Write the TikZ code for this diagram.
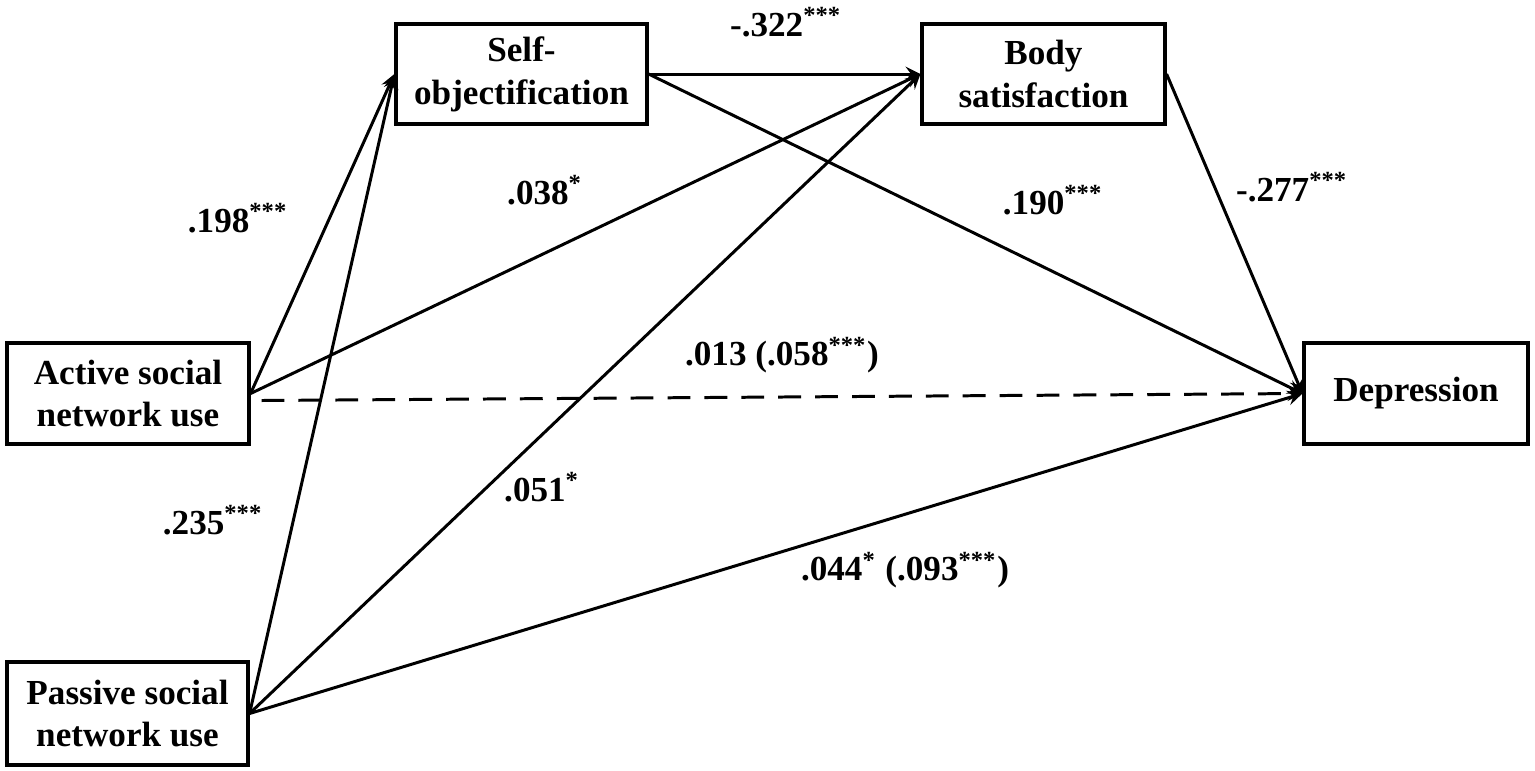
\documentclass[tikz,border=0pt]{standalone}
\usepackage{fontspec}
\setmainfont{Liberation Serif}
\usepackage{tikz}
\usetikzlibrary{positioning,arrows}

\begin{document}
\begin{tikzpicture}[
  font=\fontsize{10}{12.2}\selectfont\bfseries,
  >={stealth[scale=1.3]},
  var/.style={rectangle, draw=black, fill=white, align=center,
    line width=0.9pt, inner sep=2pt},
  ar/.style={->, line width=0.85pt, draw=black},
  arD/.style={->, line width=0.85pt, draw=black, dash pattern=on 6.5pt off 4pt},
  coef/.style={inner sep=1pt}
]
\useasboundingbox (0,0) rectangle (15.35,-7.70);
% Predictors
\node[var, minimum width=2.42cm, minimum height=1.01cm] (active) at (1.28,-3.935)
  {Active social\\network use};
\node[var, minimum width=2.41cm, minimum height=1.03cm] (passive) at (1.275,-7.135)
  {Passive social\\network use};
% Mediators
\node[var, minimum width=2.51cm, minimum height=1.00cm] (selfobj) at (5.215,-0.74)
  {Self-\\objectification};
\node[var, minimum width=2.43cm, minimum height=1.00cm] (bodysat) at (10.435,-0.74)
  {Body\\satisfaction};
% Outcome
\node[var, minimum width=2.24cm, minimum height=1.01cm] (depr) at (14.16,-3.935)
  {Depression};
% active -> mediators
\draw[ar] (active.east) -- (selfobj.west);
\draw[ar] (active.east) -- (bodysat.west);
% passive -> mediators, outcome
\draw[ar] (passive.east) -- (selfobj.west);
\draw[ar] (passive.east) -- (bodysat.west);
\draw[ar] (passive.east) -- (depr.west);
% mediators -> outcome
\draw[ar] (selfobj.east) -- (bodysat.west);
\draw[ar] (selfobj.east) -- (depr.west);
\draw[ar] (bodysat.east) -- (depr.west);
% direct effect (dashed)
\draw[arD] ([xshift=0.11cm,yshift=-0.07cm]active.east) -- (depr.west);
% Path coefficients
\node[coef] (c198) at (2.38,-2.18) {.198\textsuperscript{***}};
\node[coef] (c038) at (5.45,-1.90) {.038\textsuperscript{*}};
\node[coef] (c322) at (7.86,-0.22) {-.322\textsuperscript{***}};
\node[coef] (c190) at (10.53,-2.00) {.190\textsuperscript{***}};
\node[coef] (c277) at (12.92,-1.87) {-.277\textsuperscript{***}};
\node[coef] (c013) at (7.82,-3.55) {.013 (.058\textsuperscript{***})};
\node[coef] (c235) at (2.13,-5.20) {.235\textsuperscript{***}};
\node[coef] (c051) at (5.42,-4.87) {.051\textsuperscript{*}};
\node[coef] (c044) at (9.05,-5.70) {.044\textsuperscript{*} (.093\textsuperscript{***})};
\end{tikzpicture}
\end{document}
